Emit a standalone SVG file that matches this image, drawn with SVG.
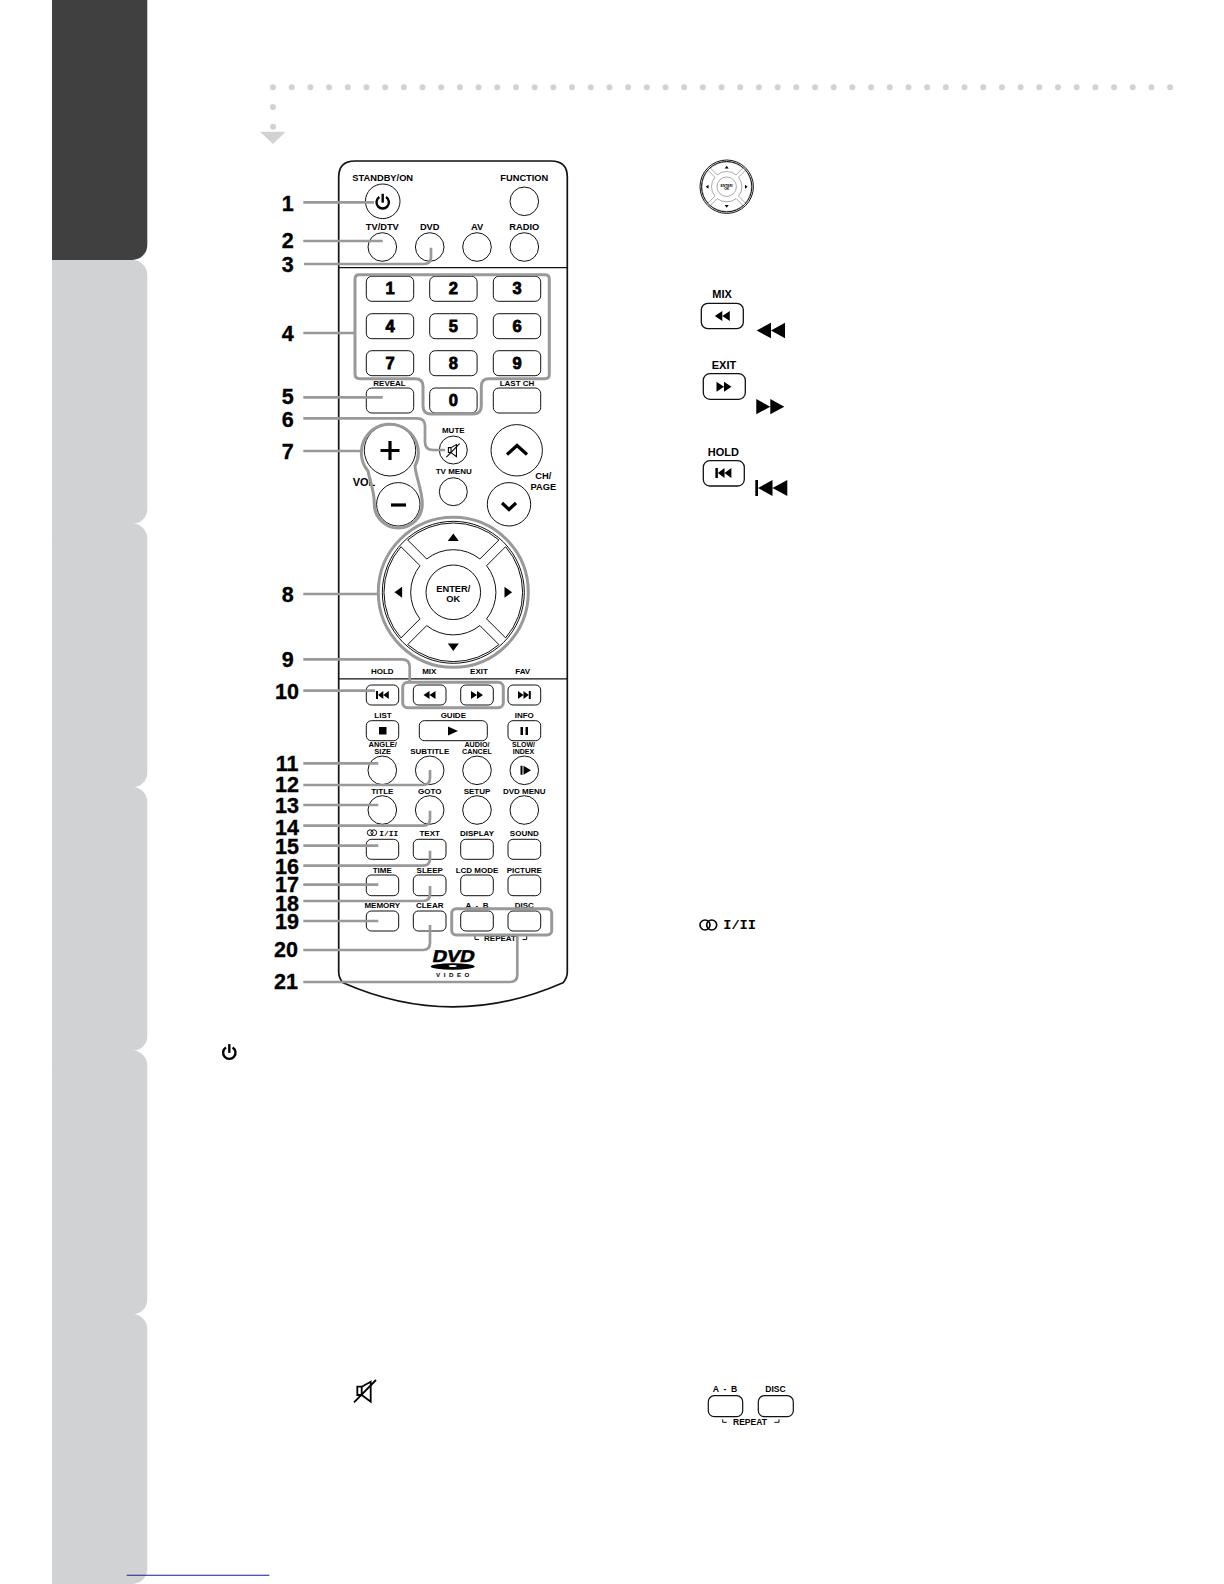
<svg xmlns="http://www.w3.org/2000/svg" xmlns:xlink="http://www.w3.org/1999/xlink" width="1224" height="1584" viewBox="0 0 1224 1584">
<style>
text{font-family:"Liberation Sans",Arial,sans-serif;font-weight:bold;fill:#000;text-anchor:middle}
.l{font-size:8px}
.m{font-size:9.3px}
.d{font-size:16.5px;stroke:#000;stroke-width:.8}
.n{font-size:21.5px;stroke:#000;stroke-width:.35}
.big{font-size:11px}
.mono{font-family:"Liberation Mono",monospace;text-anchor:start}
.b{fill:#fff;stroke:#111;stroke-width:1}
.o{fill:none;stroke:#111;stroke-width:1}
.h{fill:none;stroke:#999;stroke-width:3;stroke-linejoin:round}
.c{fill:none;stroke:#999;stroke-width:2.7}
.tab{fill:#d1d2d3}
.k{fill:#000}
</style>
<defs>
<path id="rew" d="M-6 0 0-4V4ZM0 0 6-4V4Z"/>
<path id="ffw" d="M6 0 0-4V4ZM0 0-6-4V4Z"/>
<path id="prev" d="M-6.5-4H-4.5V4H-6.5ZM-4.5 0 0.8-4V4ZM0.8 0 6.3-4V4Z"/>
<path id="next" d="M6.5-4H4.5V4H6.5ZM4.5 0-0.8-4V4ZM-0.8 0-6.3-4V4Z"/>
<path id="wedge" d="M-45.6-52.3A69.6 69.6 0 0 1 45.6-52.3L26.6-33.3A42.6 42.6 0 0 0-26.6-33.3Z"/>
<path id="tri" d="M0-3.8 5.5 3.8H-5.5Z"/>
<g id="power" fill="none" stroke="#000" stroke-width="2.4"><path d="M-3.3-4.9A6.2 6.2 0 1 0 3.3-4.9"/><path d="M0-8.2V.6"/></g>
<g id="mute" fill="none" stroke="#000" stroke-width="1.8"><path d="M-7.7-4H-3.3V4.3H-7.7ZM-3.3-4 5.7-9V11L-3.3 4.3"/><path d="M-11 11.7 11-10.7"/></g>
<g id="pad"><use xlink:href="#wedge" class="b"/><use xlink:href="#wedge" class="b" transform="rotate(90)"/><use xlink:href="#wedge" class="b" transform="rotate(180)"/><use xlink:href="#wedge" class="b" transform="rotate(270)"/><circle r="27.3" class="b"/><use xlink:href="#tri" y="-55" class="k"/><use xlink:href="#tri" y="-55" class="k" transform="rotate(90)"/><use xlink:href="#tri" y="-55" class="k" transform="rotate(180)"/><use xlink:href="#tri" y="-55" class="k" transform="rotate(270)"/></g>
</defs>

<g id="side-tabs">
<rect class="tab" x="52" y="1314" width="95.300" height="270" rx="15"/>
<rect x="52" y="1314" width="40" height="270" class="tab"/>
<rect class="tab" x="52" y="1050.500" width="95.300" height="264" rx="15"/>
<rect class="tab" x="52" y="787" width="95.300" height="264" rx="15"/>
<rect class="tab" x="52" y="523.500" width="95.300" height="264" rx="15"/>
<rect class="tab" x="52" y="260" width="95.300" height="264" rx="15"/>
<rect x="52" y="260" width="40" height="1324" class="tab"/>
<path d="M52 0H147.300V245A15 15 0 0 1 132.300 260H52Z" fill="#404040"/>
</g>
<g id="dots" fill="#d1d2d3">
<line x1="273" y1="87.300" x2="1172" y2="87.300" stroke="#d1d2d3" stroke-width="6" stroke-linecap="round" stroke-dasharray="0 18.690"/>
<circle cx="273" cy="107" r="3"/><circle cx="273" cy="126.700" r="3"/>
<path d="M260 131.700H285.700L273 144Z"/>
</g>

<g id="remote-body">
<path d="M338.700 177Q338.700 161 355 161H551Q567.300 161 567.300 177V972Q567.300 978 563 982.700Q453 1031 343 982.700Q338.700 978 338.700 972Z" fill="#fff" stroke="#111" stroke-width="1.700"/>
<path d="M338.700 267.700H567.300M338.700 678.800H567.300" stroke="#111" stroke-width="1.200"/>
</g>

<g id="btn-standby"><text class="m" x="382.700" y="180.700">STANDBY/ON</text><circle class="b" cx="382.700" cy="201.300" r="17.300"/><use xlink:href="#power" x="382.700" y="202"/></g>
<g id="btn-function"><text class="m" x="524.300" y="180.700">FUNCTION</text><circle class="b" cx="524.300" cy="201.300" r="14.300"/></g>
<g id="btn-tv"><text class="m" x="382.300" y="230">TV/DTV</text><circle class="b" cx="382.300" cy="247" r="14.300"/></g>
<g id="btn-dvd"><text class="m" x="429.700" y="230">DVD</text><circle class="b" cx="429.700" cy="247" r="14.300"/></g>
<g id="btn-av"><text class="m" x="477" y="230">AV</text><circle class="b" cx="477" cy="247" r="14.300"/></g>
<g id="btn-radio"><text class="m" x="524.300" y="230">RADIO</text><circle class="b" cx="524.300" cy="247" r="14.300"/></g>

<g id="btn-1"><rect class="b" x="366.300" y="276.300" width="47.400" height="25" rx="5.500"/><text class="d" x="390" y="294">1</text></g>
<g id="btn-2"><rect class="b" x="429.700" y="276.300" width="47.400" height="25" rx="5.500"/><text class="d" x="453.400" y="294">2</text></g>
<g id="btn-3"><rect class="b" x="493.300" y="276.300" width="47.400" height="25" rx="5.500"/><text class="d" x="517" y="294">3</text></g>
<g id="btn-4"><rect class="b" x="366.300" y="313.700" width="47.400" height="25" rx="5.500"/><text class="d" x="390" y="331.500">4</text></g>
<g id="btn-5"><rect class="b" x="429.700" y="313.700" width="47.400" height="25" rx="5.500"/><text class="d" x="453.400" y="331.500">5</text></g>
<g id="btn-6"><rect class="b" x="493.300" y="313.700" width="47.400" height="25" rx="5.500"/><text class="d" x="517" y="331.500">6</text></g>
<g id="btn-7"><rect class="b" x="366.300" y="350.700" width="47.400" height="25" rx="5.500"/><text class="d" x="390" y="368.700">7</text></g>
<g id="btn-8"><rect class="b" x="429.700" y="350.700" width="47.400" height="25" rx="5.500"/><text class="d" x="453.400" y="368.700">8</text></g>
<g id="btn-9"><rect class="b" x="493.300" y="350.700" width="47.400" height="25" rx="5.500"/><text class="d" x="517" y="368.700">9</text></g>
<g id="btn-reveal"><text class="l" x="389.500" y="386">REVEAL</text><rect class="b" x="366.300" y="388" width="47.400" height="25" rx="5.500"/></g>
<g id="btn-0"><rect class="b" x="429.700" y="388" width="47.400" height="25" rx="5.500"/><text class="d" x="453.400" y="406">0</text></g>
<g id="btn-lastch"><text class="l" x="517" y="386">LAST CH</text><rect class="b" x="493.300" y="388" width="47.400" height="25" rx="5.500"/></g>

<g id="btn-vol"><text class="big" x="364" y="486">VOL</text><circle class="b" cx="390" cy="450.300" r="25.700"/><path d="M380.500 450.500H399.500M390 441V460" stroke="#000" stroke-width="3.200"/><circle class="b" cx="398.300" cy="504.300" r="21.700"/><path d="M391 505H406" stroke="#000" stroke-width="3.200"/></g>
<g id="btn-mute"><text class="l" x="453.300" y="433.300">MUTE</text><circle class="b" cx="453.300" cy="450" r="14"/><use xlink:href="#mute" transform="translate(453 450) scale(.6)"/></g>
<g id="btn-tvmenu"><text class="l" x="453.700" y="474">TV MENU</text><circle class="b" cx="453.300" cy="491.700" r="14"/></g>
<g id="btn-ch"><circle class="b" cx="516.700" cy="450.300" r="25.700"/><path d="M507 454.500 517 445.500 527 454.500" fill="none" stroke="#000" stroke-width="3.200"/><circle class="b" cx="509" cy="504.300" r="21.700"/><path d="M502 503 509 509.500 516 503" fill="none" stroke="#000" stroke-width="3.200"/><text class="m" x="543.300" y="479.300">CH/</text><text class="m" x="543.300" y="490">PAGE</text></g>

<g id="btn-dpad"><use xlink:href="#pad" transform="translate(453.300 592.300)"/><circle class="o" cx="453.300" cy="592.300" r="71"/><text class="m" x="453.300" y="592.300">ENTER/</text><text class="m" x="453.300" y="601.700">OK</text></g>

<g id="btn-hold"><text class="l" x="382.300" y="674">HOLD</text><rect class="b" x="366.300" y="685" width="32.400" height="20" rx="5"/><use xlink:href="#prev" x="382.500" y="695"/></g>
<g id="btn-mix"><text class="l" x="429.300" y="674">MIX</text><rect class="b" x="413.300" y="685" width="32.700" height="20" rx="5"/><use xlink:href="#rew" x="429.500" y="695"/></g>
<g id="btn-exit"><text class="l" x="479" y="674">EXIT</text><rect class="b" x="460.700" y="685" width="32.600" height="20" rx="5"/><use xlink:href="#ffw" x="477" y="695"/></g>
<g id="btn-fav"><text class="l" x="522.700" y="674">FAV</text><rect class="b" x="508" y="685" width="32.700" height="20" rx="5"/><use xlink:href="#next" x="524.300" y="695"/></g>

<g id="btn-list"><text class="l" x="383" y="717.700">LIST</text><rect class="b" x="366.300" y="720.700" width="32.400" height="20" rx="5"/><rect class="k" x="379" y="727" width="7.500" height="7.500"/></g>
<g id="btn-guide"><text class="l" x="453.300" y="717.700">GUIDE</text><rect class="b" x="419.300" y="720.700" width="68" height="20" rx="5"/><path class="k" d="M448 726.500 458 731 448 735.500Z"/></g>
<g id="btn-info"><text class="l" x="524.300" y="717.700">INFO</text><rect class="b" x="508" y="720.700" width="32.700" height="20" rx="5"/><path class="k" d="M520.500 727H523V735H520.500ZM525.500 727H528V735H525.500Z"/></g>

<g id="btn-angle"><text class="l" x="382.700" y="747.300" style="font-size:7.500px">ANGLE/</text><text class="l" x="382.700" y="754.300" style="font-size:7.500px">SIZE</text><circle class="b" cx="382.300" cy="770.300" r="14.300"/></g>
<g id="btn-subtitle"><text class="l" x="429.700" y="753.700">SUBTITLE</text><circle class="b" cx="429.700" cy="770.300" r="14.300"/></g>
<g id="btn-audio"><text class="l" x="477" y="747.300" style="font-size:7.200px">AUDIO/</text><text class="l" x="477" y="754.300" style="font-size:7.200px">CANCEL</text><circle class="b" cx="477" cy="770.300" r="14.300"/></g>
<g id="btn-slow"><text class="l" x="523.500" y="747.300" style="font-size:7px">SLOW/</text><text class="l" x="523.500" y="754.300" style="font-size:7px">INDEX</text><circle class="b" cx="524.300" cy="770.300" r="14.300"/><path class="k" d="M520.500 765.800H522.500V774.800H520.500ZM523.500 765.800 531 770.300 523.500 774.800Z"/></g>

<g id="btn-title"><text class="l" x="382.300" y="793.700">TITLE</text><circle class="b" cx="382.300" cy="810" r="14.300"/></g>
<g id="btn-goto"><text class="l" x="429.700" y="793.700">GOTO</text><circle class="b" cx="429.700" cy="810" r="14.300"/></g>
<g id="btn-setup"><text class="l" x="477" y="793.700">SETUP</text><circle class="b" cx="477" cy="810" r="14.300"/></g>
<g id="btn-dvdmenu"><text class="l" x="524.300" y="793.700">DVD MENU</text><circle class="b" cx="524.300" cy="810" r="14.300"/></g>

<g id="btn-audio-mode"><circle class="o" cx="370.200" cy="832.700" r="2.900"/><circle class="o" cx="373.800" cy="832.700" r="2.900"/><text class="mono" x="379.300" y="835.500" style="font-size:7.900px">I/II</text><rect class="b" x="366.300" y="839.300" width="32.400" height="20" rx="5"/></g>
<g id="btn-text"><text class="l" x="429.700" y="835.700">TEXT</text><rect class="b" x="413.300" y="839.300" width="32.700" height="20" rx="5"/></g>
<g id="btn-display"><text class="l" x="477" y="835.700">DISPLAY</text><rect class="b" x="460.700" y="839.300" width="32.600" height="20" rx="5"/></g>
<g id="btn-sound"><text class="l" x="524.300" y="835.700">SOUND</text><rect class="b" x="508" y="839.300" width="32.700" height="20" rx="5"/></g>

<g id="btn-time"><text class="l" x="382.300" y="872.700">TIME</text><rect class="b" x="366.300" y="875" width="32.400" height="20.700" rx="5"/></g>
<g id="btn-sleep"><text class="l" x="429.700" y="872.700">SLEEP</text><rect class="b" x="413.300" y="875" width="32.700" height="20.700" rx="5"/></g>
<g id="btn-lcd"><text class="l" x="477" y="872.700">LCD MODE</text><rect class="b" x="460.700" y="875" width="32.600" height="20.700" rx="5"/></g>
<g id="btn-picture"><text class="l" x="524.300" y="872.700">PICTURE</text><rect class="b" x="508" y="875" width="32.700" height="20.700" rx="5"/></g>

<g id="btn-memory"><text class="l" x="382.300" y="908">MEMORY</text><rect class="b" x="366.300" y="911" width="32.400" height="20" rx="5"/></g>
<g id="btn-clear"><text class="l" x="429.700" y="908">CLEAR</text><rect class="b" x="413.300" y="911" width="32.700" height="20" rx="5"/></g>
<g id="btn-ab"><text class="l" x="477" y="908" xml:space="preserve">A  -  B</text><rect class="b" x="460.700" y="911" width="32.600" height="20" rx="5"/></g>
<g id="btn-disc"><text class="l" x="524.300" y="908">DISC</text><rect class="b" x="508" y="911" width="32.700" height="20" rx="5"/></g>
<g id="repeat-label"><text class="l" x="500" y="940.700">REPEAT</text><path d="M475 936V939.500H479M526.700 936V939.500H522.500" class="o"/></g>

<g id="dvd-logo"><text x="452.700" y="962" transform="skewX(-12)" style="font-size:17px;stroke:#000;stroke-width:.6" dx="204.500" textLength="42" lengthAdjust="spacingAndGlyphs">DVD</text><ellipse cx="452.700" cy="966.500" rx="22" ry="3.300" fill="#000"/><ellipse cx="452.700" cy="966" rx="4" ry="1" fill="#fff"/><text x="454.500" y="976.700" style="font-size:6.200px;letter-spacing:3.500px">VIDEO</text></g>

<g id="connectors">
<path class="c" d="M303.300 202.300H374"/>
<path class="c" d="M303.300 241H382.700"/>
<path class="c" d="M304 264H424Q431 264 431 257V247.700"/>
<path class="c" d="M303.300 333H355"/>
<path class="c" d="M303.300 397.300H382.700"/>
<path class="c" d="M303.300 418.300H417Q425 418.300 425 426V442Q425 450 433 450H445"/>
<path class="c" d="M303.300 451H363"/>
<path class="c" d="M303.300 594H378"/>
<path class="c" d="M303.300 659.300H402Q409.700 659.300 409.700 667V681.700"/>
<path class="c" d="M303.300 690.700H375"/>
<path class="c" d="M303.300 763.300H378.300"/>
<path class="c" d="M303.300 785H423Q430 785 430 778V770"/>
<path class="c" d="M303.300 805H378.300"/>
<path class="c" d="M303.300 825.700H423Q430 825.700 430 818.700V810.700"/>
<path class="c" d="M303.300 845.700H378.300"/>
<path class="c" d="M303.300 865.700H423Q430 865.700 430 858.700V850.700"/>
<path class="c" d="M303.300 884.700H378.300"/>
<path class="c" d="M303.300 901H423Q430 901 430 894V886"/>
<path class="c" d="M303.300 921H378.300"/>
<path class="c" d="M303.300 950H423Q430 950 430 943V925"/>
<path class="c" d="M303.300 982H510Q517.300 982 517.300 975V935.300"/>
<path class="h" d="M359 274.700H545Q549.300 274.700 549.300 279V374.500Q549.300 378.700 545 378.700H489Q481.300 378.700 481.300 386V406Q481.300 414 473 414H431Q423 414 423 406V386Q423 378.700 415 378.700H360Q355 378.700 355 374V279Q355 274.700 359 274.700Z"/>
<path class="h" d="M368 471A28.500 28.500 0 1 1 415 466C416 478 422.300 490 422.300 504A24 24 0 0 1 374.300 504C374.300 490 370 482 368 471Z"/>
<circle class="h" cx="453.300" cy="592.300" r="75"/>
<rect class="h" x="402.700" y="682.300" width="100.600" height="25.400" rx="5"/>
<rect class="h" x="451.700" y="908.700" width="100" height="26.300" rx="4.500"/>
</g>

<g id="numbers">
<text class="n" x="287.700" y="211">1</text><text class="n" x="287.700" y="248.300">2</text><text class="n" x="287.700" y="271.700">3</text><text class="n" x="287.700" y="340.700">4</text><text class="n" x="287.700" y="404.300">5</text><text class="n" x="287.700" y="426.700">6</text><text class="n" x="287.700" y="459.300">7</text><text class="n" x="287.700" y="602.300">8</text><text class="n" x="287.700" y="666.700">9</text><text class="n" x="287" y="699">10</text><text class="n" x="287" y="771">11</text><text class="n" x="287" y="791.700">12</text><text class="n" x="287" y="813">13</text><text class="n" x="287" y="835">14</text><text class="n" x="287" y="854.300">15</text><text class="n" x="287" y="874">16</text><text class="n" x="287" y="892">17</text><text class="n" x="287" y="910.700">18</text><text class="n" x="287" y="929.300">19</text><text class="n" x="286" y="957.300">20</text><text class="n" x="286" y="989.300">21</text>
</g>

<g id="icon-dpad"><use xlink:href="#pad" transform="translate(726.700 186.700) scale(.356)"/><circle class="o" cx="726.700" cy="186.700" r="26.700"/><circle class="o" cx="726.700" cy="186.700" r="25.200"/><text x="726.700" y="186.500" style="font-size:3.400px">ENTER/</text><text x="726.700" y="190" style="font-size:3.400px">OK</text></g>
<g id="icon-mix"><text class="big" x="722" y="298">MIX</text><rect class="b" x="701.300" y="303.300" width="42" height="25.400" rx="6.500" style="stroke-width:1.300"/><use xlink:href="#rew" transform="translate(722.300 316) scale(1.25)"/><path class="k" d="M756.700 330.500 771 322.700V338.300ZM771 330.500 785 322.700V338.300Z"/></g>
<g id="icon-exit"><text class="big" x="724" y="369.300">EXIT</text><rect class="b" x="703.300" y="373.700" width="42" height="25.600" rx="6.500" style="stroke-width:1.300"/><use xlink:href="#ffw" transform="translate(724 386.700) scale(1.25)"/><path class="k" d="M784.300 406.700 770.300 399V414.300ZM770.300 406.700 756.300 399V414.300Z"/></g>
<g id="icon-hold"><text class="big" x="723.300" y="455.700">HOLD</text><rect class="b" x="703.300" y="460.700" width="41" height="25.300" rx="6.500" style="stroke-width:1.300"/><use xlink:href="#prev" transform="translate(723.500 473) scale(1.25)"/><path class="k" d="M755.300 480H758V496H755.300ZM758 488 772.500 480V496ZM772.500 488 787.300 480V496Z"/></g>
<g id="icon-audio"><circle cx="705" cy="925" r="5" fill="none" stroke="#000" stroke-width="1.600"/><circle cx="711.700" cy="925" r="5" fill="none" stroke="#000" stroke-width="1.600"/><text class="mono" x="723.300" y="929" style="font-size:13.600px">I/II</text></g>
<g id="icon-power"><use xlink:href="#power" x="229.300" y="1052.300"/></g>
<g id="icon-mute"><use xlink:href="#mute" x="365" y="1390.700"/></g>
<g id="icon-repeat"><text class="l" x="725" y="1391.700" xml:space="preserve" style="font-size:8.600px">A  -  B</text><rect class="b" x="708.300" y="1395.700" width="34.400" height="21" rx="6" style="stroke-width:1.200"/><text class="l" x="775.500" y="1391.700" style="font-size:8.600px">DISC</text><rect class="b" x="758.300" y="1395.700" width="35" height="21" rx="6" style="stroke-width:1.200"/><text class="l" x="750" y="1425" style="font-size:8.500px">REPEAT</text><path d="M722.700 1419.300V1422.300H726.700M779 1419.300V1422.300H774.300" class="o"/></g>
<line id="footer-rule" x1="126.700" y1="1575.300" x2="269.300" y2="1575.300" stroke="#1a1a99" stroke-width="1.100"/>
</svg>
